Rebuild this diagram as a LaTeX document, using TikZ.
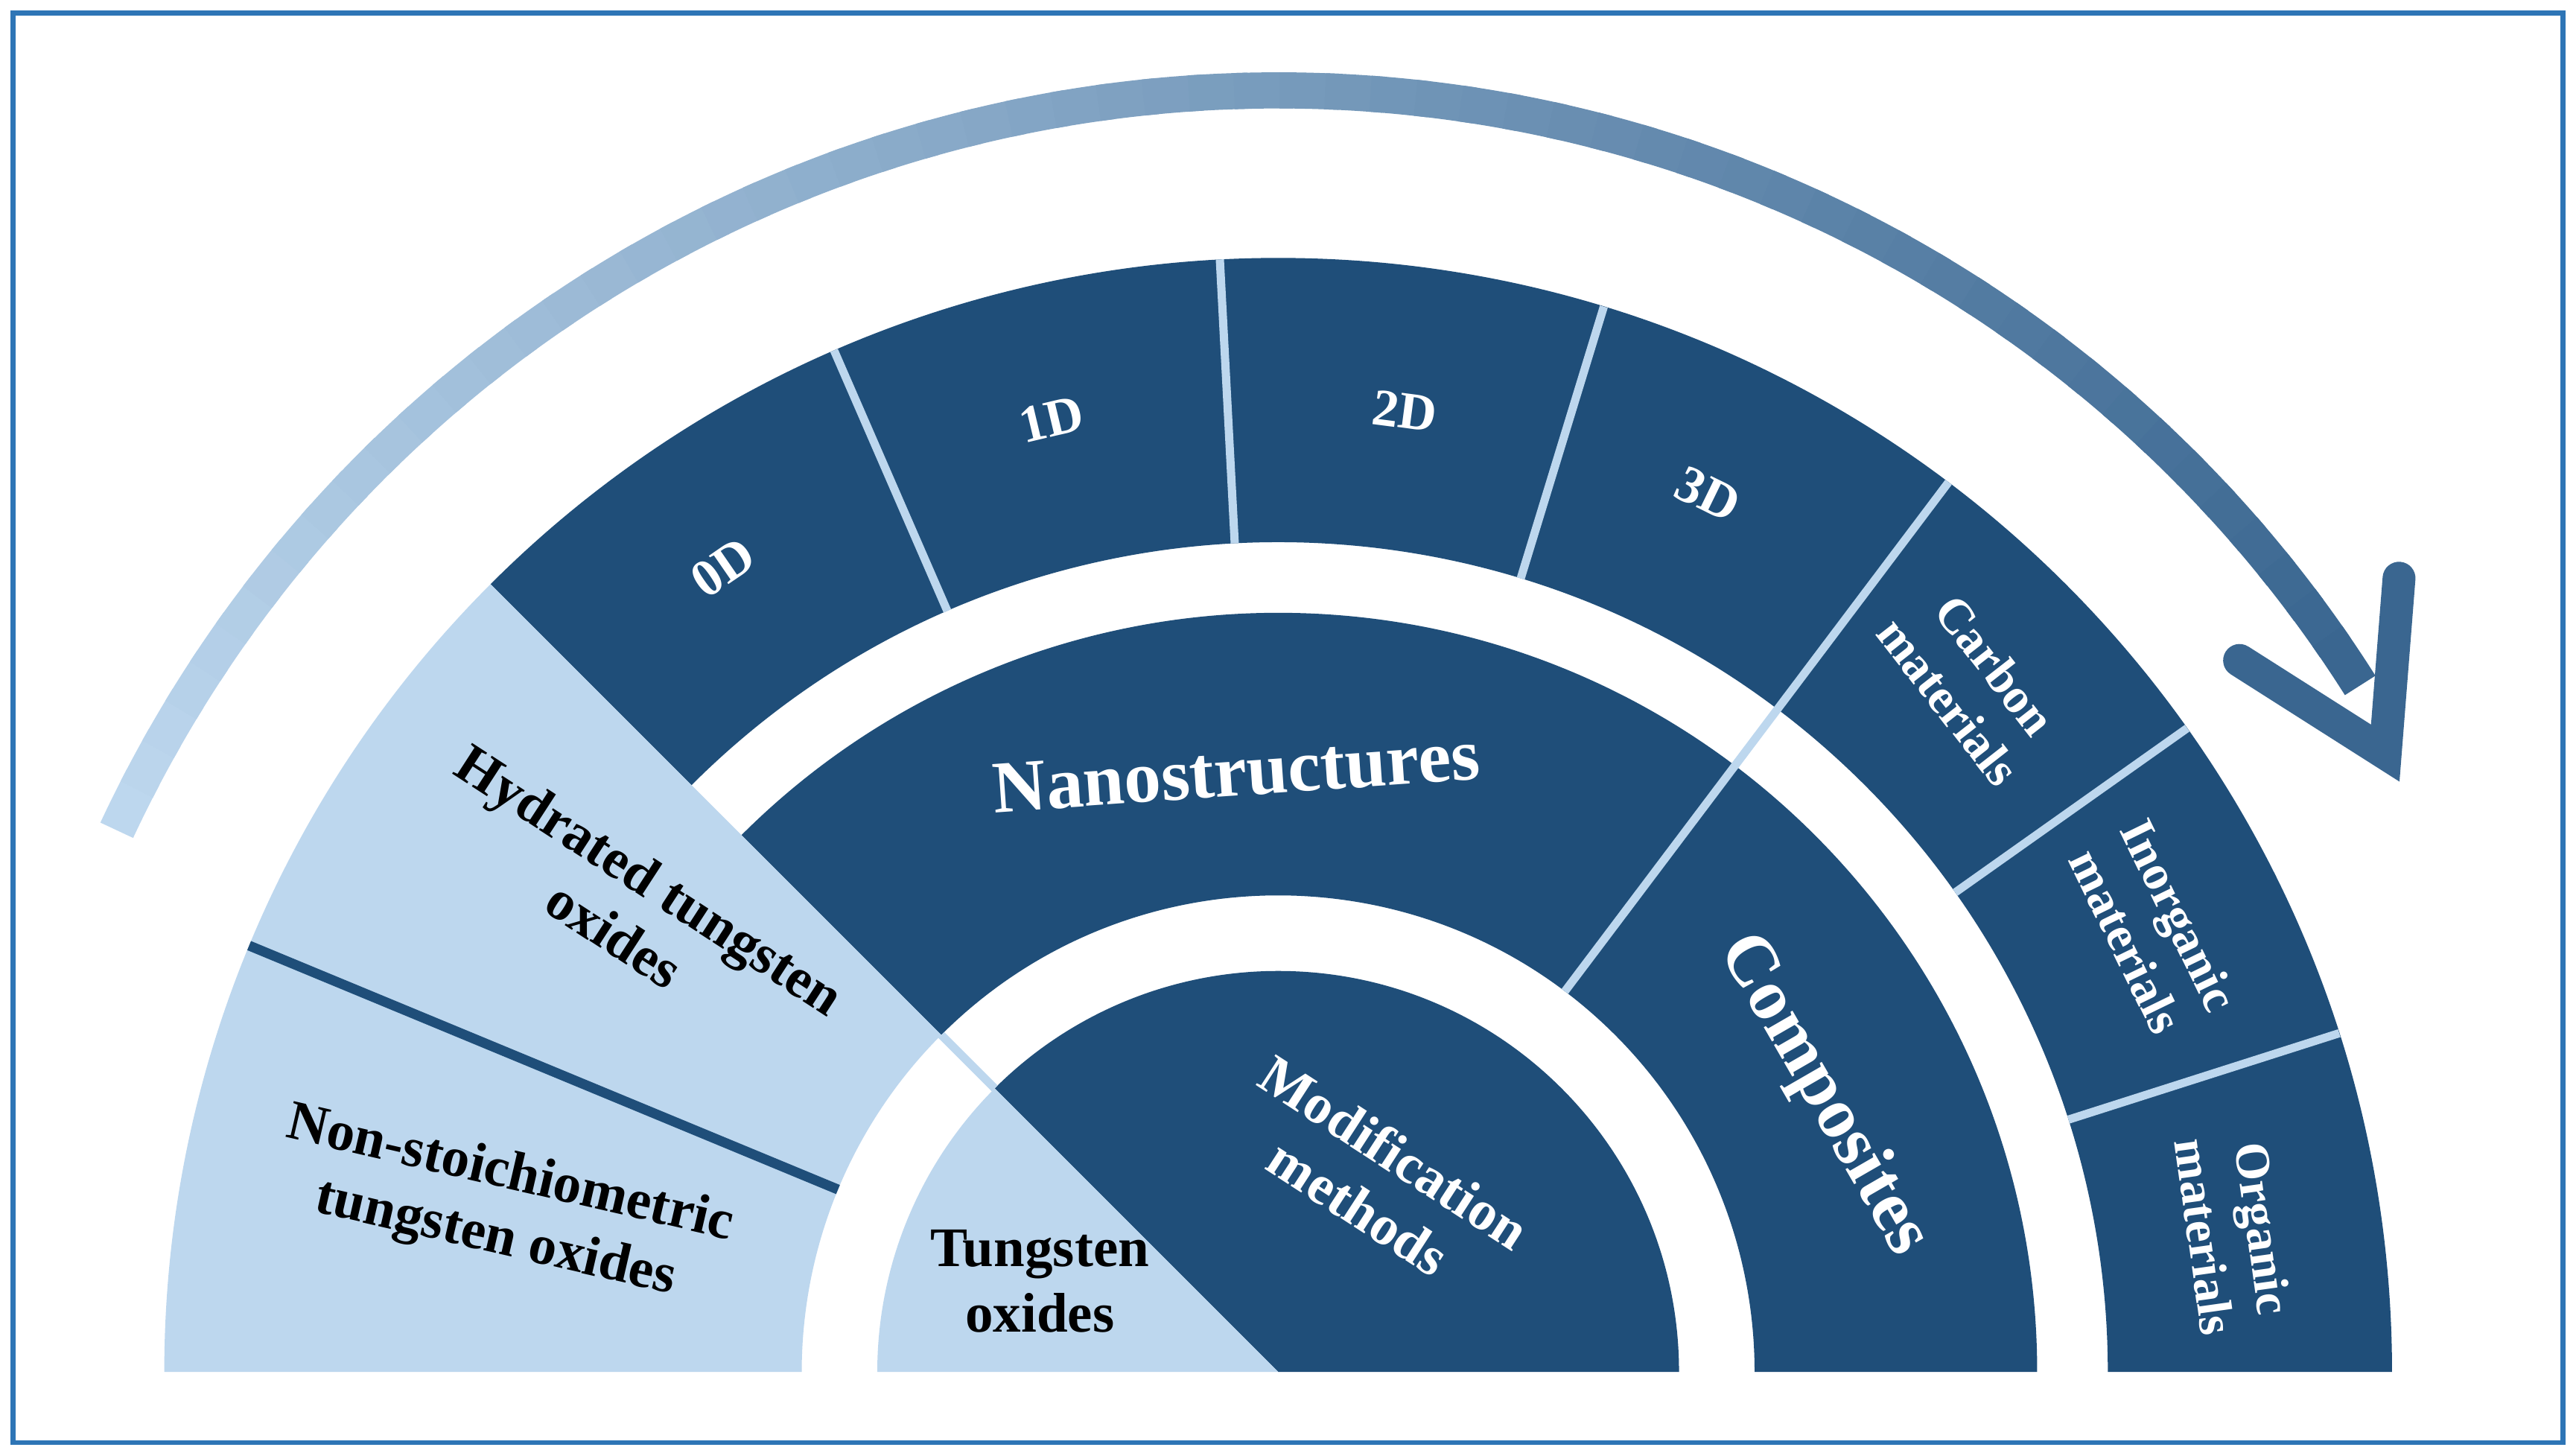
\documentclass[tikz,border=0pt]{standalone}
\usepackage{fontspec}
\setmainfont{Liberation Serif}
\definecolor{dk}{HTML}{1F4E79}
\definecolor{lt}{HTML}{BDD7EE}
\definecolor{ad}{HTML}{3A6690}
\definecolor{fr}{HTML}{2E75B6}
\newcommand{\sect}[5]{\fill[#5] (#3:#2) arc[start angle=#3,end angle=#4,radius=#2] -- (#4:#1) arc[start angle=#4,end angle=#3,radius=#1] -- cycle;}
\begin{document}
\begin{tikzpicture}[x=1pt,y=1pt,
  lbl/.style={text=white,font=\bfseries,align=center,inner sep=0},
  dlbl/.style={text=black,font=\bfseries,align=center,inner sep=0},
  sep/.style={lt,line width=5}]
\useasboundingbox (0,0) rectangle (1568,886);
\fill[white] (0,0) rectangle (1568,886);
\draw[fr,line width=3] (8,8) rectangle (1560,878);
\begin{scope}[shift={(778,51)}]
\coordinate (c) at (0,0);
% arc arrow
\foreach \i in {0,...,59}{
  \pgfmathsetmacro{\aa}{155-\i*(155-33)/60}
  \pgfmathsetmacro{\ab}{155-(\i+1.3)*(155-33)/60}
  \pgfmathsetmacro{\p}{100-\i*100/59}
  \draw[lt!\p!ad,line width=22] (\aa:780) arc[start angle=\aa,end angle=\ab,radius=780];
}
\coordinate (tip) at (29.2:772);
\coordinate (arm1) at (36.5:728);
\coordinate (arm2) at (35.3:836);
\draw[ad,line width=20,line join=miter,line cap=round] (arm1) -- (tip) -- (arm2);
% sectors
\sect{0}{244}{0}{135}{dk}
\sect{0}{244}{135}{180}{lt}
\sect{290}{462}{0}{135}{dk}
\sect{505}{678}{0}{135}{dk}
\sect{290}{678}{135}{180}{lt}
% separators
\draw[sep] (53:290) -- (53:678);
\foreach \a in {113.5,93,73,35.3,17.7}{\draw[sep] (\a:505) -- (\a:678);}
\draw[sep] (135:244) -- (135:290);
\draw[dk,line width=6] (157.5:290) -- (157.5:678);
% labels
\node[lbl,font=\bfseries\fontsize{32}{34}\selectfont,rotate=34.6] (d0) at (124.6:595) {0D};
\node[lbl,font=\bfseries\fontsize{32}{34}\selectfont,rotate=13.4] (d1) at (103.4:596) {1D};
\node[lbl,font=\bfseries\fontsize{32}{34}\selectfont,rotate=-7.5] (d2) at (82.5:590) {2D};
\node[lbl,font=\bfseries\fontsize{32}{34}\selectfont,rotate=-26] (d3) at (63.9:595) {3D};
\node[lbl,font=\bfseries\fontsize{30}{36}\selectfont,rotate=-52] (cm) at (44.8:595) {Carbon\\materials};
\node[lbl,font=\bfseries\fontsize{30}{36}\selectfont,rotate=-64] (im) at (26.9:597) {Inorganic\\materials};
\node[lbl,font=\bfseries\fontsize{30}{36}\selectfont,rotate=-82] (om) at (8.3:588) {Organic\\materials};
\node[lbl,font=\bfseries\fontsize{45}{48}\selectfont,rotate=4] (ns) at (94:366) {Nanostructures};
\node[lbl,font=\bfseries\fontsize{44}{48}\selectfont,rotate=-60] (co) at (26.9:372) {Composites};
\node[lbl,font=\bfseries\fontsize{34}{40}\selectfont,rotate=-33] (mm) at (60,117) {Modification\\methods};
\node[dlbl,font=\bfseries\fontsize{34}{40}\selectfont] (to) at (-145,55) {Tungsten\\oxides};
\node[dlbl,font=\bfseries\fontsize{34}{40}\selectfont,rotate=-33] (hto) at (-393,283) {Hydrated tungsten\\oxides};
\node[dlbl,font=\bfseries\fontsize{34}{40}\selectfont,rotate=-13] (nst) at (-472,100) {Non-stoichiometric\\tungsten oxides};
\end{scope}
\end{tikzpicture}
\end{document}
